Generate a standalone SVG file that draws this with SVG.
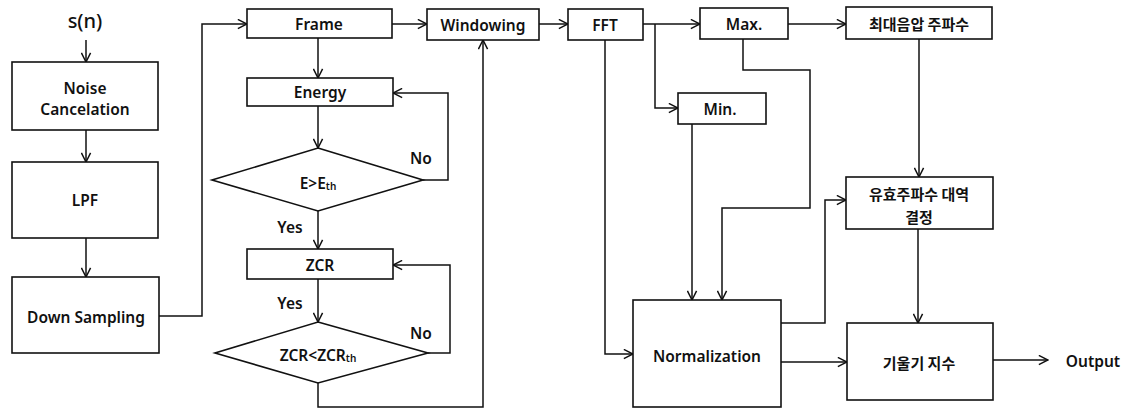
<svg xmlns="http://www.w3.org/2000/svg" width="1126" height="410" viewBox="0 0 1126 410">
<style>
.box{fill:#fff;stroke:#111;stroke-width:1.6}
.ln{fill:none;stroke:#111;stroke-width:1.5}
.ar{marker-end:url(#ah)}
text{font-family:"Noto Sans","Noto Sans CJK KR",sans-serif;font-weight:600;font-size:15.5px;fill:#111;text-anchor:middle;dominant-baseline:central}
.kr{font-family:"Noto Sans CJK KR",sans-serif;font-weight:700;font-size:15px}
.sub{font-size:10px}
</style>
<defs>
<marker id="ah" viewBox="0 0 12 12" refX="11" refY="6" markerWidth="11" markerHeight="11" markerUnits="userSpaceOnUse" orient="auto">
<path d="M1,1 L11,6 L1,11" fill="none" stroke="#111" stroke-width="1.6"/>
</marker>
</defs>
<g id="connectors">
<path class="ln ar" d="M86,40 V62"/>
<path class="ln ar" d="M86,130 V162"/>
<path class="ln ar" d="M86,238 V277"/>
<path class="ln ar" d="M159,316 H202 V24 H247"/>
<path class="ln ar" d="M318,38 V78"/>
<path class="ln ar" d="M392,24 H427"/>
<path class="ln ar" d="M318,106 V148"/>
<path class="ln ar" d="M423,180 H448 V93 H393"/>
<path class="ln ar" d="M318,211 V249"/>
<path class="ln ar" d="M318,279 V322"/>
<path class="ln ar" d="M428,353 H450 V265 H393"/>
<path class="ln ar" d="M318,383 V407 H483 V40"/>
<path class="ln ar" d="M539,24 H568"/>
<path class="ln ar" d="M643,24 H700"/>
<path class="ln ar" d="M655,24 V108 H678"/>
<path class="ln ar" d="M605,40 V354 H633"/>
<path class="ln ar" d="M692,124 V300"/>
<path class="ln ar" d="M743,39 V70 H810 V208 H722 V300"/>
<path class="ln ar" d="M788,24 H846"/>
<path class="ln ar" d="M919,39 V177"/>
<path class="ln ar" d="M781,323 H825 V200 H846"/>
<path class="ln ar" d="M918,229 V323"/>
<path class="ln ar" d="M781,362 H847"/>
<path class="ln ar" d="M993,360 H1048"/>
</g>
<g id="sn"><text x="85" y="20" style="font-size:20px;font-weight:500">s(n)</text></g>
<g id="noise"><rect class="box" x="12" y="62" width="146" height="68"/><text x="85" y="88">Noise</text><text x="85" y="109">Cancelation</text></g>
<g id="lpf"><rect class="box" x="12" y="162" width="146" height="76"/><text x="85" y="200">LPF</text></g>
<g id="down"><rect class="box" x="12" y="277" width="147" height="76"/><text x="86" y="317">Down Sampling</text></g>
<g id="frame"><rect class="box" x="247" y="9" width="145" height="29"/><text x="319" y="24">Frame</text></g>
<g id="energy"><rect class="box" x="247" y="78" width="146" height="28"/><text x="320" y="92">Energy</text></g>
<g id="dec1"><polygon class="box" points="318,148 423,180 318,211 212,180"/><text x="318" y="183">E&gt;E<tspan class="sub" dy="3">th</tspan></text></g>
<g id="no1"><text x="421" y="158">No</text></g>
<g id="yes1"><text x="290" y="227">Yes</text></g>
<g id="zcr"><rect class="box" x="247" y="249" width="146" height="30"/><text x="320" y="265">ZCR</text></g>
<g id="yes2"><text x="290" y="303">Yes</text></g>
<g id="dec2"><polygon class="box" points="318,322 428,353 318,383 215,353"/><text x="318" y="355">ZCR&lt;ZCR<tspan class="sub" dy="3">th</tspan></text></g>
<g id="no2"><text x="421" y="333">No</text></g>
<g id="windowing"><rect class="box" x="427" y="9" width="112" height="31"/><text x="483" y="25">Windowing</text></g>
<g id="fft"><rect class="box" x="568" y="9" width="75" height="31"/><text x="605" y="25">FFT</text></g>
<g id="max"><rect class="box" x="700" y="8" width="88" height="31"/><text x="744" y="24">Max.</text></g>
<g id="min"><rect class="box" x="678" y="93" width="88" height="31"/><text x="720" y="109">Min.</text></g>
<g id="peak"><rect class="box" x="846" y="7" width="146" height="32"/><text class="kr" x="919" y="23">최대음압 주파수</text></g>
<g id="band"><rect class="box" x="846" y="177" width="147" height="52"/><text class="kr" x="919" y="193">유효주파수 대역</text><text class="kr" x="919" y="216">결정</text></g>
<g id="norm"><rect class="box" x="633" y="300" width="148" height="107"/><text x="707" y="356">Normalization</text></g>
<g id="slope"><rect class="box" x="847" y="323" width="146" height="77"/><text class="kr" x="919" y="362">기울기 지수</text></g>
<g id="output"><text x="1093" y="361">Output</text></g>
</svg>
